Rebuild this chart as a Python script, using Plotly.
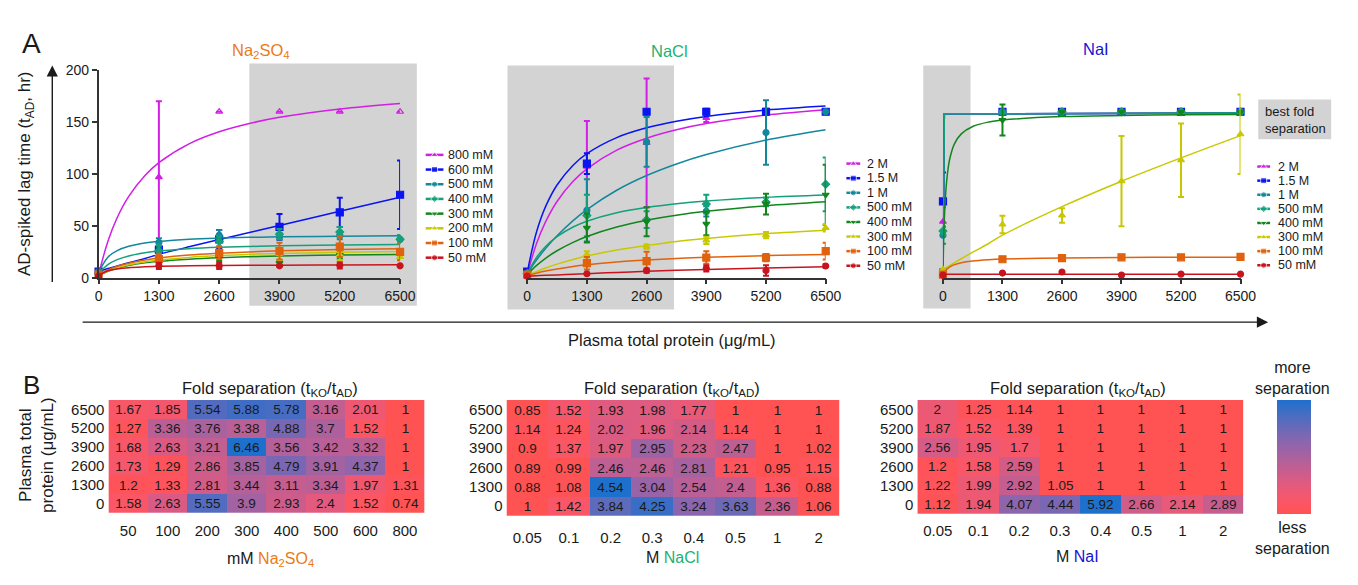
import plotly.graph_objects as go

W, H = 1358, 585
FONT = "Arial, 'Liberation Sans', sans-serif"
INK = "#1a1a1a"


def px(x):
    return x / W


def py(y):
    return 1 - y / H


# ------------------------------------------------------------------ data (top row)
PROTEIN = [0, 1300, 2600, 3900, 5200, 6500]
CURVE_X = [0, 200, 400, 650, 1000, 1300, 1950, 2600, 3250, 3900, 5200, 6500]
NAI_CURVE_X = [0, 15, 30, 60, 100, 150, 250, 400, 650, 1000, 1300, 2600, 3900, 5200, 6500]

SERIES_COLORS = ["#D21EE6", "#0A14F0", "#13889C", "#14A07A", "#12861C", "#C8C800", "#E0620E", "#C8141E"]
SERIES_SYMBOLS = ["triangle-up", "square", "circle", "diamond", "triangle-down", "triangle-up", "square", "circle"]

NA2SO4_LABELS = ["800 mM", "600 mM", "500 mM", "400 mM", "300 mM", "200 mM", "100 mM", "50 mM"]
NA2SO4_MEAN = [
    [4, 97, 160, 160, 160, 160],
    [6, 27, 37, 49, 63, 80],
    [6, 34, 41, 40, 41, 37],
    [4, 26, 35, 42, 44, 37],
    [3, 17, 19, 14, 22, 22],
    [2, 18, 22, 23, 22, 20],
    [3, 18, 24, 25.6, 30, 25],
    [1.5, 11.5, 11.5, 11.5, 12, 11.5],
]
NA2SO4_ERR = [
    [0, 73, 0, 0, 0, 0],
    [0, 8, 9, 12.5, 14, 33],
    [0, 4, 5, 3, 4, 4],
    [0, 6, 5, 5, 5, 4],
    [0, 3, 3, 3, 4, 3],
    [0, 3, 4, 6, 5, 4],
    [0, 5, 6, 8, 10, 8],
    [0, 3, 3, 0, 3, 0],
]
NA2SO4_800_SYMBOLS = ["triangle-up", "triangle-up", "triangle-up-open", "triangle-up-open",
                      "triangle-up-open", "triangle-up-open"]
NA2SO4_CURVE = [
    [3, 35, 57.8, 78.4, 98.6, 111, 129.1, 140.7, 148.7, 154.6, 162.7, 168],
    [6, 8.8, 11.3, 14.5, 18.6, 22.5, 29.8, 36.8, 43.5, 50.3, 64, 77.5],
    [5, 19.8, 26.1, 30.3, 33.5, 35, 37.1, 38.2, 38.9, 39.4, 40, 40.4],
    [4, 12.6, 17.4, 21, 24.1, 25.8, 28, 29.3, 30.1, 30.7, 31.5, 32],
    [2, 6.2, 9.2, 11.8, 14.3, 15.8, 17.9, 19.3, 20.2, 20.9, 21.9, 22.5],
    [2, 6.4, 9.5, 12.4, 15.3, 17, 19.6, 21.3, 22.5, 23.3, 24.5, 25.2],
    [3, 7.6, 11, 14, 17.1, 19, 21.9, 23.6, 24.9, 25.9, 27.2, 28],
    [2, 6.7, 8.5, 9.7, 10.5, 11, 11.5, 11.8, 12, 12.1, 12.3, 12.4],
]

NACL_LABELS = ["2 M", "1.5 M", "1 M", "500 mM", "400 mM", "300 mM", "100 mM", "50 mM"]
NACL_MEAN = [
    [3, 107, 130, 154, 160, 160],
    [6, 110, 160, 160, 160, 160],
    [4, 65, 131, 64, 140, 160],
    [4, 60, 56, 71, 73, 90],
    [3, 48, 54, 52, 71, 80],
    [2, 22.5, 30, 36, 41, 48],
    [3, 14, 16, 19.4, 19.4, 25.6],
    [1.5, 3.8, 6.9, 9, 6.9, 11.3],
]
NACL_ERR = [
    [0, 44, 62, 4, 0, 0],
    [0, 10, 0, 3, 3, 0],
    [0, 30, 24, 5, 31, 0],
    [0, 20, 8, 9, 4, 26],
    [0, 14, 14, 11, 10, 29],
    [0, 3, 2, 3.6, 3, 3.5],
    [0, 6, 9, 6, 3.5, 8],
    [0, 0, 2, 3, 5, 2],
]
NACL_CURVE = [
    [3, 32.5, 53.8, 73.5, 93, 105, 123, 134.5, 142.6, 148.6, 156.8, 162],
    [5, 43.6, 68.5, 89.4, 108.5, 119.6, 135.1, 144.5, 150.9, 155.5, 161.6, 165.5],
    [4, 16.8, 28.1, 40.4, 55.1, 65.7, 84.3, 98.5, 109.7, 118.8, 132.7, 142.7],
    [4, 19.3, 30.1, 39.6, 48.9, 54.5, 62.7, 67.8, 71.4, 74, 77.5, 79.8],
    [3, 11.6, 18.7, 26, 34.1, 39.7, 48.8, 55.3, 60.2, 64, 69.4, 73.2],
    [2, 5.9, 9.3, 13.1, 17.6, 20.9, 26.7, 31, 34.9, 37.8, 42.4, 45.7],
    [2, 4.4, 6.4, 8.5, 10.9, 12.5, 15.2, 17.1, 18.6, 19.7, 21.3, 22.5],
    [1.5, 1.9, 2.3, 2.7, 3.3, 3.9, 5.1, 6.2, 7.2, 8, 9.4, 10.6],
]

NAI_LABELS = ["2 M", "1.5 M", "1 M", "500 mM", "400 mM", "300 mM", "100 mM", "50 mM"]
NAI_MEAN = [
    [54, 160, 160, 160, 160, 160],
    [73.5, 160, 160, 160, 160, 160],
    [41, 160, 160, 160, 160, 160],
    [45, 160, 160, 160, 160, 160],
    [7, 152, 160, 160, 160, 160],
    [8, 51.3, 60, 93, 113.3, 138.3],
    [3, 17.8, 18.8, 19.7, 19.7, 20],
    [2.5, 4.5, 5.5, 2.5, 3.5, 3.5],
]
NAI_ERR = [
    [14, 0, 0, 0, 0, 0],
    [28, 0, 0, 0, 0, 0],
    [8.3, 0, 0, 0, 0, 0],
    [4, 0, 0, 0, 0, 0],
    [0, 15, 0, 0, 0, 0],
    [0, 8.5, 7, 43.5, 35.4, 38.3],
    [0, 1, 1, 1, 1, 2],
    [0, 0, 0, 0, 0, 0],
]
NAI_CURVE = [
    [5, 158, 158, 158, 158, 158, 158, 158, 158, 158, 158, 158.2, 158.4, 158.6, 158.8],
    [5, 158, 158, 158, 158, 158, 158, 158, 158, 158, 158, 158.2, 158.4, 158.6, 158.8],
    [5, 158, 158, 158, 158, 158, 158, 158, 158, 158, 158, 158.2, 158.4, 158.6, 158.8],
    [5, 158, 158, 158, 158, 158, 158, 158, 158, 158, 158, 158.2, 158.4, 158.6, 158.8],
    [5, 35.8, 56.3, 81.9, 101.1, 114.9, 129, 138.7, 145.8, 150.1, 152, 155.3, 156.4, 157, 157.4],
    [8, 8.4, 8.8, 9.6, 10.6, 11.9, 14.5, 18.3, 24.6, 33, 41, 68.5, 93, 115.5, 137],
    [3, 4.2, 5.3, 7, 8.8, 10.4, 12.6, 14.5, 16.2, 17.4, 18, 19.1, 19.5, 19.7, 19.8],
    [3.3, 3.3, 3.3, 3.3, 3.3, 3.3, 3.3, 3.3, 3.3, 3.3, 3.3, 3.3, 3.3, 3.3, 3.3],
]
NAI_SHAPES = ["linear", "linear", "linear", "linear", "spline", "spline", "spline", "spline"]

# ------------------------------------------------------------------ data (heatmaps)
HEAT_ROWS = ["6500", "5200", "3900", "2600", "1300", "0"]
NA2SO4_COLS = ["50", "100", "200", "300", "400", "500", "600", "800"]
NACL_COLS = ["0.05", "0.1", "0.2", "0.3", "0.4", "0.5", "1", "2"]
NAI_COLS = ["0.05", "0.1", "0.2", "0.3", "0.4", "0.5", "1", "2"]

NA2SO4_FOLD = [
    [1.67, 1.85, 5.54, 5.88, 5.78, 3.16, 2.01, 1],
    [1.27, 3.36, 3.76, 3.38, 4.88, 3.7, 1.52, 1],
    [1.68, 2.63, 3.21, 6.46, 3.56, 3.42, 3.32, 1],
    [1.73, 1.29, 2.86, 3.85, 4.79, 3.91, 4.37, 1],
    [1.2, 1.33, 2.81, 3.44, 3.11, 3.34, 1.97, 1.31],
    [1.58, 2.63, 5.55, 3.9, 2.93, 2.4, 1.52, 0.74],
]
NACL_FOLD = [
    [0.85, 1.52, 1.93, 1.98, 1.77, 1, 1, 1],
    [1.14, 1.24, 2.02, 1.96, 2.14, 1.14, 1, 1],
    [0.9, 1.37, 1.97, 2.95, 2.23, 2.47, 1, 1.02],
    [0.89, 0.99, 2.46, 2.46, 2.81, 1.21, 0.95, 1.15],
    [0.88, 1.08, 4.54, 3.04, 2.54, 2.4, 1.36, 0.88],
    [1, 1.42, 3.84, 4.25, 3.24, 3.63, 2.36, 1.06],
]
NAI_FOLD = [
    [2, 1.25, 1.14, 1, 1, 1, 1, 1],
    [1.87, 1.52, 1.39, 1, 1, 1, 1, 1],
    [2.56, 1.95, 1.7, 1, 1, 1, 1, 1],
    [1.2, 1.58, 2.59, 1, 1, 1, 1, 1],
    [1.22, 1.99, 2.92, 1.05, 1, 1, 1, 1],
    [1.12, 1.94, 4.07, 4.44, 5.92, 2.66, 2.14, 2.89],
]

FOLD_COLORSCALE = [
    [0.0, "rgb(255,82,82)"],
    [0.1, "rgb(252,86,100)"],
    [0.25, "rgb(228,90,125)"],
    [0.45, "rgb(182,96,152)"],
    [0.65, "rgb(135,102,175)"],
    [0.85, "rgb(78,108,192)"],
    [1.0, "rgb(30,112,205)"],
]

C_NA2SO4 = "#EC7A14"
C_NACL = "#1BB274"
C_NAI = "#1414D2"

fig = go.Figure()

# ------------------------------------------------------------------ top row panels
panels = [
    dict(labels=NA2SO4_LABELS, mean=NA2SO4_MEAN, err=NA2SO4_ERR, cx=CURVE_X, curve=NA2SO4_CURVE,
         shapes=["spline"] * 8, xa="x", ya="y"),
    dict(labels=NACL_LABELS, mean=NACL_MEAN, err=NACL_ERR, cx=CURVE_X, curve=NACL_CURVE,
         shapes=["spline"] * 8, xa="x2", ya="y2"),
    dict(labels=NAI_LABELS, mean=NAI_MEAN, err=NAI_ERR, cx=NAI_CURVE_X, curve=NAI_CURVE,
         shapes=NAI_SHAPES, xa="x3", ya="y3"),
]

for p_i, p in enumerate(panels):
    for i in range(8):
        col = SERIES_COLORS[i]
        fig.add_trace(go.Scatter(
            x=p["cx"], y=p["curve"][i], mode="lines",
            line=dict(color=col, width=1.5, shape=p["shapes"][i], smoothing=1),
            xaxis=p["xa"], yaxis=p["ya"], showlegend=False, hoverinfo="skip"))
        sym = NA2SO4_800_SYMBOLS if (p_i == 0 and i == 0) else SERIES_SYMBOLS[i]
        size = 7 if SERIES_SYMBOLS[i] == "square" else 6
        fig.add_trace(go.Scatter(
            x=PROTEIN, y=p["mean"][i], mode="markers",
            marker=dict(color=col, size=size, symbol=sym, line=dict(width=1.2, color=col)),
            error_y=dict(type="data", array=p["err"][i], visible=True, color=col, thickness=2, width=3),
            xaxis=p["xa"], yaxis=p["ya"], showlegend=False, cliponaxis=False, name=p["labels"][i]))

# ------------------------------------------------------------------ heatmaps
heat = [
    (NA2SO4_FOLD, NA2SO4_COLS, "x4", "y4"),
    (NACL_FOLD, NACL_COLS, "x5", "y5"),
    (NAI_FOLD, NAI_COLS, "x6", "y6"),
]
for h_i, (z, cols, xa, ya) in enumerate(heat):
    zmax = max(max(r) for r in z)
    fig.add_trace(go.Heatmap(
        z=z, x=cols, y=HEAT_ROWS, text=[[f"{v:g}" for v in r] for r in z],
        texttemplate="%{text}", textfont=dict(size=13.5, color=INK, family=FONT),
        colorscale=FOLD_COLORSCALE, zmin=1, zmax=zmax, xgap=0, ygap=0,
        showscale=(h_i == 2), hoverinfo="skip", xaxis=xa, yaxis=ya,
        colorbar=dict(x=px(1292), xanchor="left", y=py(403), yanchor="top",
                      thickness=34, thicknessmode="pixels", len=114, lenmode="pixels",
                      showticklabels=False, ticks="", outlinewidth=0, xpad=0, ypad=0)))

# ------------------------------------------------------------------ legends (compact, drawn manually)
legend_specs = [
    (NA2SO4_LABELS, 428, 446, 449, 151, 15.1),
    (NACL_LABELS, 855, 869, 874, 160, 15.0),
    (NAI_LABELS, 1272, 1285, 1291, 163, 14.5),
]
annotations = []
for labels, x0, x1, tx, y0, step in legend_specs:
    for i, lab in enumerate(labels):
        yy = y0 + i * step
        col = SERIES_COLORS[i]
        fig.add_trace(go.Scatter(
            x=[x0, (x0 + x1) / 2, x1], y=[yy, yy, yy], mode="lines+markers",
            line=dict(color=col, width=2.5),
            marker=dict(size=[0, 6, 0], symbol=SERIES_SYMBOLS[i], color=col),
            xaxis="x7", yaxis="y7", showlegend=False, hoverinfo="skip", cliponaxis=False))
        annotations.append(dict(x=px(tx), y=py(yy), xref="paper", yref="paper", text=lab,
                                showarrow=False, xanchor="left", yanchor="middle",
                                font=dict(size=12.5, color=INK)))

# ------------------------------------------------------------------ axes
top_y0, top_y1 = py(277.3), py(64)
xcommon = dict(range=[0, 6500], tickvals=PROTEIN, ticks="outside", ticklen=5, tickwidth=1.5,
               tickcolor="#333", showline=True, linecolor="#333", linewidth=1.5, showgrid=False,
               zeroline=False, tickfont=dict(size=14, color=INK), fixedrange=True)
fig.update_layout(
    xaxis=dict(domain=[px(96), px(402)], anchor="y", **xcommon),
    xaxis2=dict(domain=[px(531), px(834)], anchor="y2", **xcommon),
    xaxis3=dict(domain=[px(953), px(1255)], anchor="y3", **xcommon),
    yaxis=dict(domain=[top_y0, top_y1], range=[0, 200], tickvals=[0, 50, 100, 150, 200],
               ticks="outside", ticklen=5, tickwidth=1.5, tickcolor="#333", showline=True,
               linecolor="#333", linewidth=1.5, showgrid=False, zeroline=False,
               tickfont=dict(size=14, color=INK), anchor="x"),
    yaxis2=dict(domain=[top_y0, top_y1], range=[0, 200], visible=False, anchor="x2"),
    yaxis3=dict(domain=[top_y0, top_y1], range=[0, 200], visible=False, anchor="x3"),
)

hx = dict(type="category", ticks="", showline=False, showgrid=False, zeroline=False,
          tickfont=dict(size=15, color=INK))
hy = dict(type="category", autorange="reversed", ticks="", showline=False, showgrid=False,
          zeroline=False, tickfont=dict(size=15, color=INK), ticklabelstandoff=3)
fig.update_layout(
    xaxis4=dict(domain=[px(106), px(427)], anchor="y4", ticklabelstandoff=7, **hx),
    yaxis4=dict(domain=[py(519), py(403)], anchor="x4", **hy),
    xaxis5=dict(domain=[px(510), px(848)], anchor="y5", ticklabelstandoff=11, **hx),
    yaxis5=dict(domain=[py(522), py(403)], anchor="x5", **hy),
    xaxis6=dict(domain=[px(927), px(1258)], anchor="y6", ticklabelstandoff=6, **hx),
    yaxis6=dict(domain=[py(520), py(403)], anchor="x6", **hy),
    xaxis7=dict(domain=[0, 1], range=[0, W], visible=False, anchor="y7", fixedrange=True),
    yaxis7=dict(domain=[0, 1], range=[H, 0], visible=False, anchor="x7", fixedrange=True),
)

# ------------------------------------------------------------------ shading
shapes = []
for x0, x1, y0, y1 in [(249, 419, 57, 306), (511, 680, 59, 310), (933, 981, 59, 309),
                       (1273, 1347, 94, 135)]:
    shapes.append(dict(type="rect", xref="paper", yref="paper", x0=px(x0), x1=px(x1),
                       y0=py(y1), y1=py(y0), fillcolor="#D3D3D3", line=dict(width=0), layer="below"))


# ------------------------------------------------------------------ text
def txt(x, y, text, size, color=INK, angle=0, xanchor="center", align="center"):
    annotations.append(dict(x=px(x), y=py(y), xref="paper", yref="paper", text=text,
                            showarrow=False, xanchor=xanchor, yanchor="middle", textangle=angle,
                            align=align, font=dict(size=size, color=color)))


txt(28, 37, "A", 28)
txt(28, 388, "B", 26)
txt(261, 44, "Na<sub>2</sub>SO<sub>4</sub>", 16.5, C_NA2SO4)
txt(675, 44, "NaCl", 16.5, C_NACL)
txt(1108, 42, "NaI", 16.5, C_NAI)
txt(23, 170, "AD-spiked lag time (t<sub>AD</sub>, hr)", 17, angle=-90)
txt(678, 341, "Plasma total protein (μg/mL)", 16.5)
txt(1278, 115, "best fold<br>separation", 13, xanchor="left", align="left")

fold_title = "Fold separation (t<sub>KO</sub>/t<sub>AD</sub>)"
txt(270, 392, fold_title, 16.5)
txt(678, 392, fold_title, 16.5)
txt(1090, 392, fold_title, 16.5)
txt(270, 567, f"mM <span style='color:{C_NA2SO4}'>Na<sub>2</sub>SO<sub>4</sub></span>", 16)
txt(678, 565, f"M <span style='color:{C_NACL}'>NaCl</span>", 16)
txt(1090, 564, f"M <span style='color:{C_NAI}'>NaI</span>", 16)
txt(33, 460, "Plasma total<br>protein (μg/mL)", 17, angle=-90)
txt(1308, 380, "more<br>separation", 16)
txt(1308, 545, "less<br>separation", 16)

# arrows
annotations.append(dict(x=px(49), y=py(59), xref="paper", yref="paper", text="", showarrow=True,
                        ax=0, ay=218, arrowhead=2, arrowsize=1.6, arrowwidth=1.4, arrowcolor=INK))
annotations.append(dict(x=px(1283), y=py(323), xref="paper", yref="paper", text="", showarrow=True,
                        ax=-1187, ay=0, arrowhead=2, arrowsize=1.6, arrowwidth=1.4, arrowcolor=INK))

fig.update_layout(
    width=W, height=H, margin=dict(l=0, r=0, t=0, b=0), autosize=False,
    paper_bgcolor="white", plot_bgcolor="rgba(0,0,0,0)",
    font=dict(family=FONT, color=INK), showlegend=False,
    shapes=shapes, annotations=annotations,
)

fig.write_html("out.html", config={"displayModeBar": False},
               post_script=["document.body.style.margin='0px';"])
